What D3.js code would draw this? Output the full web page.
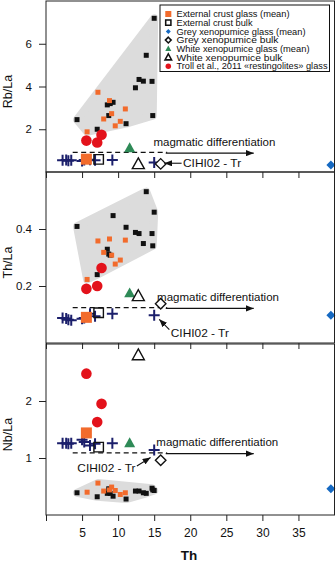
<!DOCTYPE html>
<meta charset="utf-8">
<script src="https://d3js.org/d3.v7.min.js"></script>
<style>
  body { margin: 0; background: #fff; }
  svg text { font-family: Arial, "Liberation Sans", sans-serif; fill: #111; }
</style>
<div id="chart"></div>
<script>

// Th (x axis) ticks, shared by the three panels
const thTicks = [0, 5, 10, 15, 20, 25, 30, 35];

// grey field: bulk analyses (black) and glass analyses (orange)
const bulkTh   = [15.0, 13.9, 12.9, 13.5, 14.7, 12.4, 9.3, 8.9, 8.5, 8.7, 14.8, 4.3, 11.1, 7.1];
const bulkRbLa = [7.19, 5.46, 4.33, 4.25, 4.24, 3.94, 3.26, 3.20, 3.14, 2.64, 2.64, 2.45, 2.26, 2.00];
const bulkThLa = [0.459, 0.531, 0.384, 0.349, 0.384, 0.388, 0.447, 0.308, 0.329, 0.312, 0.341, 0.409, 0.406, 0.240];
const bulkNbLa = [0.43, 0.38, 0.42, 0.39, 0.47, 0.42, 0.33, 0.38, 0.38, 0.46, 0.44, 0.39, 0.28, 0.32];

const glassTh   = [7.2, 8.8, 9.1, 11.0, 8.0, 10.3, 9.6, 5.7];
const glassRbLa = [3.73, 3.34, 2.73, 2.95, 2.48, 2.37, 2.16, 1.88];
const glassThLa = [0.358, 0.365, 0.308, 0.361, 0.318, 0.291, 0.277, 0.223];
const glassNbLa = [0.56, 0.44, 0.49, 0.39, 0.42, 0.36, 0.43, 0.40];

// navy crosses
const crossTh   = [2.3, 2.8, 3.1, 3.5, 5.0, 5.3, 6.1, 6.8, 9.2, 15.0];
const crossRbLa = [0.55, 0.56, 0.53, 0.55, 0.52, 0.56, 0.57, 0.55, 0.56, 0.45];
const crossThLa = [0.088, 0.086, 0.082, 0.080, 0.085, 0.088, 0.103, 0.094, 0.103, 0.097];
const crossNbLa = [1.26, 1.26, 1.25, 1.26, 1.32, 1.28, 1.22, 1.25, 1.26, 1.14];

// mean / bulk samples, one per legend entry
const sampleNames = ["External crust glass (mean)", "External crust bulk", "Grey xenopumice glass (mean)",
                     "Grey xenopumice bulk", "White xenopumice glass (mean)", "White xenopumice bulk"];
const sampleTh   = [5.6, 7.3, 39.5, 15.9, 11.6, 12.8];
const sampleRbLa = [0.60, 0.59, 0.33, 0.38, 1.11, 0.36];
const sampleThLa = [0.090, 0.106, 0.097, 0.138, 0.174, 0.164];
const sampleNbLa = [1.44, 1.19, 0.46, 0.96, 1.26, 2.80];

// Troll et al. 2011 restingolite glass
const trollName = "Troll et al., 2011 «restingolites» glass";
const trollTh   = [5.6, 7.1, 7.7];
const trollRbLa = [1.47, 1.38, 1.74];
const trollThLa = [0.190, 0.200, 0.263];
const trollNbLa = [2.48, 1.63, 1.95];

// magmatic differentiation trend level in each panel
const trendLevel = [0.92, 0.124, 1.09];

const W = 336, H = 562;
const left = 46, right = 334.5;
const panelTop = [1, 172, 344], panelH = 171;

const orange = "#f26b2c", blue = "#1569c2", green = "#2e8a57", red = "#e3121b", navy = "#1b1f6b";

const x = d3.scaleLinear().domain([0, 40]).range([left, right]);

const svg = d3.select("#chart").append("svg")
    .attr("width", W)
    .attr("height", H);

svg.append("defs").append("marker")
    .attr("id", "head")
    .attr("viewBox", "0 0 10 8")
    .attr("refX", 10).attr("refY", 4)
    .attr("markerWidth", 8).attr("markerHeight", 6.4)
    .attr("markerUnits", "userSpaceOnUse")
    .attr("orient", "auto")
  .append("path")
    .attr("d", "M0,0L10,4L0,8Z")
    .attr("fill", "#111");

// the figure's lettering is a little wider than the font's own metrics
function widen(sel, k) {
  sel.each(function() {
    const w = this.getComputedTextLength();
    d3.select(this).attr("textLength", w * k).attr("lengthAdjust", "spacingAndGlyphs");
  });
}

// marker shapes
function square(s) { return `M${-s/2},${-s/2}h${s}v${s}h${-s}Z`; }
function diamond(s) { return `M0,${-s/2}L${s/2},0L0,${s/2}L${-s/2},0Z`; }
function triangle(s) { const h = s * 0.9; return `M0,${-h*0.6}L${s/2},${h*0.4}L${-s/2},${h*0.4}Z`; }
function cross(s) { return `M${-s/2},0H${s/2}M0,${-s/2}V${s/2}`; }

const sampleStyle = [
  {d: square(11), fill: orange, stroke: "none"},
  {d: square(9.5), fill: "none", stroke: "#111"},
  {d: diamond(9), fill: blue, stroke: "none"},
  {d: diamond(10.5), fill: "#fff", stroke: "#111"},
  {d: triangle(11), fill: green, stroke: "none"},
  {d: triangle(12), fill: "#fff", stroke: "#111"}
];

const panels = [
  {label: "Rb/La", max: 8,   ticks: [2, 4, 6],   bulk: bulkRbLa, glass: glassRbLa, cross: crossRbLa,
   sample: sampleRbLa, troll: trollRbLa,
   magma: [14.9, 1.36], tag: {at: [19.0, 0.41], anchor: "start", from: [18.8, 0.41], to: [16.4, 0.41]}},
  {label: "Th/La", max: 0.6, ticks: [0.2, 0.4], bulk: bulkThLa, glass: glassThLa, cross: crossThLa,
   sample: sampleThLa, troll: trollThLa,
   magma: [15.4, 0.159], tag: {at: [17.3, 0.033], anchor: "start", from: [17.1, 0.047], to: [15.7, 0.083]}},
  {label: "Nb/La", max: 3,   ticks: [1, 2],      bulk: bulkNbLa, glass: glassNbLa, cross: crossNbLa,
   sample: sampleNbLa, troll: trollNbLa,
   magma: [15.3, 1.27], tag: {at: [12.4, 0.82], anchor: "end", from: [12.6, 0.86], to: [14.5, 1.01]}}
];

panels.forEach(function(p, i) {
  const top = panelTop[i], bottom = top + panelH;
  const y = d3.scaleLinear().domain([0, p.max]).range([bottom, top]);
  const g = svg.append("g");

  // grey field around the bulk + glass analyses
  const pts = bulkTh.map((t, k) => [x(t), y(p.bulk[k])])
      .concat(glassTh.map((t, k) => [x(t), y(p.glass[k])]));
  const hull = d3.polygonHull(pts);
  g.append("path")
      .attr("d", "M" + hull.join("L") + "Z")
      .attr("fill", "#dcdcdc")
      .attr("stroke", "#dcdcdc")
      .attr("stroke-width", 8)
      .attr("stroke-linejoin", "round");

  // trend: dashed then arrow
  g.append("line")
      .attr("x1", x(3.7)).attr("x2", x(16.8))
      .attr("y1", y(trendLevel[i])).attr("y2", y(trendLevel[i]))
      .attr("stroke", "#111").attr("stroke-width", 1.3)
      .attr("stroke-dasharray", "5,3.5");
  g.append("line")
      .attr("x1", x(16.6)).attr("x2", x(28.8))
      .attr("y1", y(trendLevel[i]) + 0.8).attr("y2", y(trendLevel[i]) + 0.8)
      .attr("stroke", "#111").attr("stroke-width", 1.3)
      .attr("marker-end", "url(#head)");
  g.append("text")
      .attr("x", x(p.magma[0])).attr("y", y(p.magma[1]))
      .attr("dy", "0.35em")
      .style("font-size", "10px")
      .text("magmatic differentiation")
      .call(widen, 1.15);

  // small squares
  g.selectAll(".bulk").data(bulkTh).join("path")
      .attr("transform", (t, k) => `translate(${x(t)},${y(p.bulk[k])})`)
      .attr("d", square(5)).attr("fill", "#111");
  g.selectAll(".glass").data(glassTh).join("path")
      .attr("transform", (t, k) => `translate(${x(t)},${y(p.glass[k])})`)
      .attr("d", square(5)).attr("fill", orange);

  // crosses
  g.selectAll(".cross").data(crossTh).join("path")
      .attr("transform", (t, k) => `translate(${x(t)},${y(p.cross[k])})`)
      .attr("d", cross(11)).attr("stroke", navy).attr("stroke-width", 2).attr("fill", "none");

  // restingolites
  g.selectAll(".troll").data(trollTh).join("circle")
      .attr("cx", t => x(t)).attr("cy", (t, k) => y(p.troll[k]))
      .attr("r", 5.3).attr("fill", red);

  // samples
  g.selectAll(".sample").data(sampleTh).join("path")
      .attr("transform", (t, k) => `translate(${x(t)},${y(p.sample[k])})`)
      .attr("d", (t, k) => sampleStyle[k].d)
      .attr("fill", (t, k) => sampleStyle[k].fill)
      .attr("stroke", (t, k) => sampleStyle[k].stroke)
      .attr("stroke-width", 1.4);

  // CIHI02 - Tr tag
  g.append("line")
      .attr("x1", x(p.tag.from[0])).attr("y1", y(p.tag.from[1]))
      .attr("x2", x(p.tag.to[0])).attr("y2", y(p.tag.to[1]))
      .attr("stroke", "#111").attr("stroke-width", 1.1)
      .attr("marker-end", "url(#head)");
  g.append("text")
      .attr("x", x(p.tag.at[0])).attr("y", y(p.tag.at[1]))
      .attr("dy", "0.35em")
      .attr("text-anchor", p.tag.anchor)
      .style("font-size", "11px")
      .text("CIHI02 - Tr")
      .call(widen, 1.08);

  // axes
  const yAxis = g.append("g")
      .attr("transform", `translate(${left},0)`)
      .call(d3.axisLeft(y).tickValues(p.ticks).tickSize(7).tickPadding(7).tickFormat(d3.format("")));
  yAxis.select(".domain").remove();
  yAxis.selectAll("text").style("font-size", "11.5px").attr("fill", "#111");
  yAxis.selectAll("line").attr("stroke", "#222");

  const xAxis = g.append("g")
      .attr("transform", `translate(0,${bottom})`)
      .call(d3.axisBottom(x).tickValues(thTicks).tickSize(6).tickPadding(7)
        .tickFormat(d => (i === 2 && d > 0) ? d : ""));
  xAxis.select(".domain").remove();
  xAxis.selectAll("text").style("font-size", "12px").attr("fill", "#111");
  xAxis.selectAll("line").attr("stroke", "#222");

  g.append("rect")
      .attr("x", left).attr("y", top)
      .attr("width", right - left).attr("height", panelH)
      .attr("fill", "none").attr("stroke", "#222").attr("stroke-width", 1);

  g.append("text")
      .attr("transform", `translate(12,${top + panelH / 2 + 5}) rotate(-90)`)
      .attr("text-anchor", "middle")
      .style("font-size", "12.5px")
      .text(p.label);
});

svg.append("text")
    .attr("x", 189).attr("y", 559.5)
    .attr("text-anchor", "middle")
    .style("font-size", "13.5px")
    .style("font-weight", "bold")
    .text("Th");

// legend in the top panel
const legend = svg.append("g");
legend.append("rect")
    .attr("x", 160).attr("y", 5).attr("width", 169.5).attr("height", 66.5)
    .attr("fill", "#fff").attr("stroke", "#111").attr("stroke-width", 1);

const legendItems = sampleNames.map((n, k) => ({name: n, d: sampleStyle[k].d, fill: sampleStyle[k].fill,
    stroke: sampleStyle[k].stroke}))
  .concat([{name: trollName, d: "M0,-5A5,5 0 1,1 0,5A5,5 0 1,1 0,-5Z", fill: red, stroke: "none"}]);

// set width of each legend line
const legendTextWidth = [113, 76, 129, 102, 133, 106, 151];

legendItems.forEach(function(it, k) {
  const ly = 14 + k * 8.7;
  legend.append("path")
      .attr("transform", `translate(168.3,${ly}) scale(0.55)`)
      .attr("d", it.d)
      .attr("fill", it.fill)
      .attr("stroke", it.stroke)
      .attr("stroke-width", 2.8);
  legend.append("text")
      .attr("x", 176.5).attr("y", ly)
      .attr("dy", "0.35em")
      .attr("textLength", legendTextWidth[k])
      .attr("lengthAdjust", "spacingAndGlyphs")
      .style("font-size", "9px")
      .text(it.name);
});

</script>
